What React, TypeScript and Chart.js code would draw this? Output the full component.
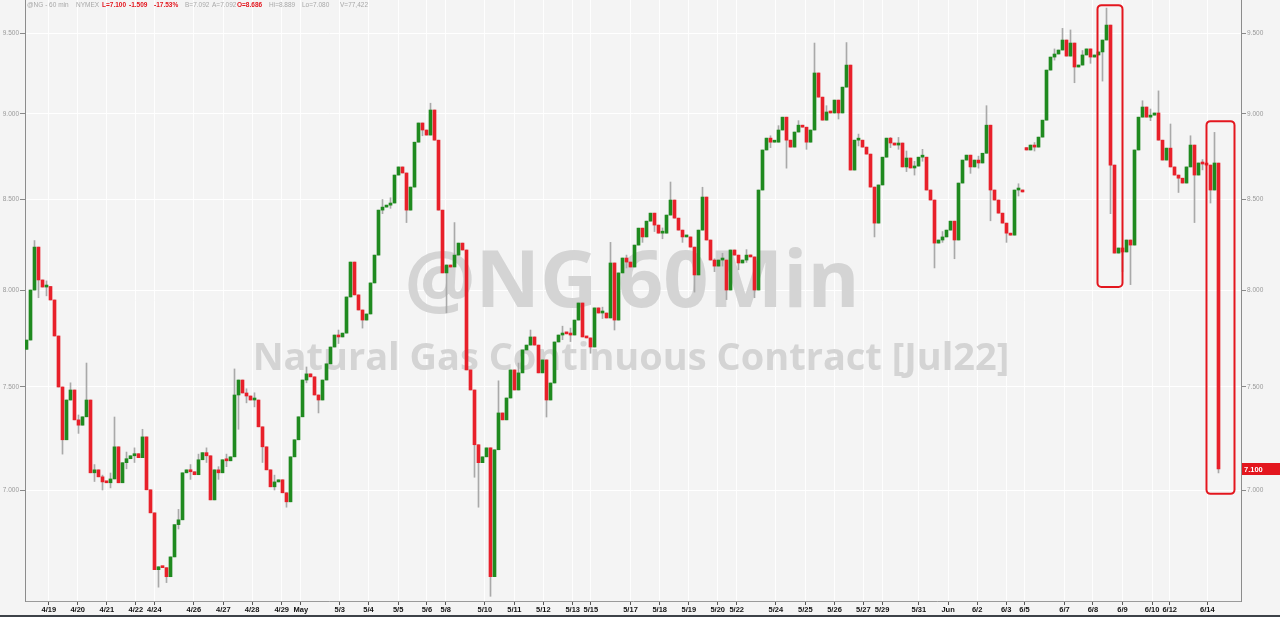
import React, { useEffect, useRef } from "react";
import { Chart, registerables } from "chart.js";

Chart.register(...registerables);

// ---- data (hourly-ish candles) ----
const closes: number[] = [
  7.738, 8.001, 8.234, 8.055, 8.017, 8.020, 7.948, 7.759, 7.499, 7.239,
  7.434, 7.484, 7.336, 7.310, 7.351, 7.434, 7.081, 7.095, 7.062, 7.038,
  7.034, 7.052, 7.205, 7.034, 7.129, 7.148, 7.162, 7.172, 7.153, 7.253,
  7.001, 6.894, 6.637, 6.650, 6.646, 6.606, 6.694, 6.840, 6.862, 7.081,
  7.095, 7.086, 7.072, 7.143, 7.177, 7.162, 6.954, 7.095, 7.081, 7.143,
  7.138, 7.157, 7.459, 7.534, 7.469, 7.454, 7.434, 7.434, 7.302, 7.205,
  7.095, 7.015, 7.038, 7.048, 6.987, 6.945, 7.157, 7.239, 7.351, 7.534,
  7.565, 7.550, 7.459, 7.434, 7.534, 7.616, 7.702, 7.764, 7.754, 7.774,
  7.964, 8.152, 7.975, 7.895, 7.842, 7.874, 8.039, 8.190, 8.440, 8.457,
  8.468, 8.480, 8.640, 8.687, 8.652, 8.440, 8.571, 8.832, 8.946, 8.904,
  8.874, 9.024, 8.844, 8.440, 8.093, 8.136, 8.125, 8.190, 8.256, 8.218,
  7.585, 7.484, 7.215, 7.129, 7.157, 7.200, 6.606, 7.191, 7.370, 7.336,
  7.444, 7.585, 7.484, 7.570, 7.687, 7.712, 7.754, 7.712, 7.570, 7.636,
  7.434, 7.519, 7.728, 7.764, 7.774, 7.770, 7.764, 7.842, 7.932, 7.754,
  7.749, 7.702, 7.906, 7.879, 7.879, 7.853, 8.147, 7.842, 8.093, 8.174,
  8.152, 8.125, 8.245, 8.339, 8.290, 8.378, 8.423, 8.356, 8.311, 8.311,
  8.412, 8.497, 8.395, 8.328, 8.290, 8.290, 8.234, 8.082, 8.328, 8.514,
  8.273, 8.163, 8.130, 8.163, 8.163, 8.001, 8.218, 8.190, 8.147, 8.163,
  8.190, 8.180, 8.001, 8.554, 8.786, 8.856, 8.832, 8.832, 8.904, 8.981,
  8.844, 8.803, 8.892, 8.933, 8.921, 8.832, 8.904, 9.250, 9.102, 8.963,
  9.012, 9.006, 9.084, 9.006, 9.163, 9.299, 8.669, 8.844, 8.844, 8.803,
  8.762, 8.571, 8.367, 8.583, 8.744, 8.856, 8.827, 8.815, 8.827, 8.687,
  8.739, 8.681, 8.692, 8.744, 8.744, 8.554, 8.497, 8.256, 8.273, 8.290,
  8.328, 8.378, 8.273, 8.594, 8.727, 8.756, 8.687, 8.727, 8.710, 8.767,
  8.933, 8.554, 8.497, 8.423, 8.367, 8.311, 8.300, 8.554, 8.554, 8.543,
  8.786, 8.815, 8.803, 8.862, 8.963, 9.268, 9.349, 9.368, 9.393, 9.456,
  9.355, 9.437, 9.287, 9.299, 9.362, 9.400, 9.349, 9.362, 9.381, 9.456,
  9.551, 8.698, 8.201, 8.229, 8.207, 8.273, 8.245, 8.786, 8.981, 9.042,
  8.981, 8.993, 9.006, 8.844, 8.727, 8.797, 8.687, 8.640, 8.622, 8.594,
  8.687, 8.815, 8.640, 8.710, 8.704, 8.698, 8.554, 8.710, 7.100,
];

const firstOpen = 7.69;
// [candle index, open] where a session opens away from the previous close
const gapOpens: [number, number][] = [[250, 8.8]];
// [candle index, high, low] for visible wicks
const wicks: [number, number | null, number | null][] = [
  [2, 8.27, null], [3, null, 7.96], [5, 8.05, 7.97], [9, null, 7.17], [11, 7.52, 7.44],
  [13, 7.36, 7.27], [15, 7.62, null], [17, 7.12, 7.04], [19, 7.07, 7.0], [21, 7.08, 7.01],
  [22, 7.35, null], [25, 7.18, 7.1], [27, 7.2, 7.13], [29, 7.29, null], [33, null, 6.56],
  [35, null, 6.58], [38, 6.91, 6.82], [41, 7.12, 7.05], [43, 7.17, 7.1], [45, 7.2, 7.13],
  [48, 7.11, 7.05], [50, 7.17, 7.11], [52, 7.59, null], [53, null, 7.29], [55, 7.49, 7.42],
  [57, 7.47, 7.4], [59, null, 7.13], [62, 7.07, 7.0], [65, null, 6.92], [70, 7.6, 7.52],
  [73, null, 7.37], [78, 7.79, 7.72], [84, 7.87, 7.8], [89, 8.5, 8.42], [91, 8.51, 8.45],
  [95, null, 8.37], [99, 8.94, 8.87], [101, 9.065, null], [105, null, 7.88], [107, 8.37, null],
  [112, null, 7.06], [113, null, 6.92], [116, null, 6.52], [118, 7.53, null], [123, 7.62, 7.53],
  [126, 7.79, 7.72], [130, null, 7.35], [134, 7.81, 7.74], [136, 7.8, 7.73], [141, 7.74, 7.67],
  [144, 7.91, 7.85], [146, 8.26, null], [147, null, 7.79], [150, 8.19, 8.12], [154, 8.33, 8.26],
  [157, 8.39, 8.32], [159, 8.34, 8.28], [161, 8.6, null], [164, 8.32, 8.26], [167, null, 7.99],
  [169, 8.57, null], [172, 8.17, 8.1], [174, 8.2, 8.13], [175, null, 7.95], [178, 8.18, 8.11],
  [180, 8.22, 8.15], [182, null, 7.96], [186, 8.87, 8.8], [188, 8.93, 8.87], [190, null, 8.68],
  [193, 8.96, 8.9], [195, 8.87, 8.79], [197, 9.437, null], [200, 9.05, 8.98], [203, 9.04, 8.97],
  [205, 9.44, null], [208, 8.88, 8.81], [212, null, 8.29], [216, 8.86, 8.8], [218, 8.86, 8.79],
  [220, 8.78, 8.66], [222, 8.72, 8.64], [224, 8.79, 8.72], [227, null, 8.12], [229, 8.32, 8.26],
  [232, null, 8.17], [236, 8.72, 8.65], [238, 8.75, 8.68], [240, 9.05, null], [241, null, 8.38],
  [245, null, 8.26], [248, 8.59, 8.52], [252, 8.83, 8.78], [257, 9.4, 9.33], [259, 9.53, null],
  [261, 9.52, null], [262, null, 9.19], [264, 9.39, 9.33], [266, 9.38, 9.31], [269, null, 9.2],
  [270, 9.66, null], [271, null, 8.42], [274, null, 8.1], [276, null, 8.03], [279, 9.08, 9.0],
  [281, 9.03, 8.96], [283, 9.14, null], [286, 8.94, null], [288, null, 8.54], [291, 8.87, null],
  [292, null, 8.37], [294, 8.73, 8.67], [296, null, 8.48], [297, 8.89, null], [298, null, 7.08],
];

const yTicks = [7.0, 7.5, 8.0, 8.5, 9.0, 9.5];
const yMin = 6.4996;
const yMax = 9.7124;

const xTickPos = [
  5.6, 12.8, 20.1, 27.35, 31.95, 41.85, 49.2, 56.4, 63.8, 68.6,
  78.3, 85.5, 92.9, 100.1, 104.8, 114.6, 121.95, 129.2, 136.55, 141.1,
  151.0, 158.3, 165.6, 172.8, 177.55, 187.35, 194.7, 202.0, 209.2, 213.9,
  223.1, 230.4, 237.65, 244.9, 249.5, 259.5, 266.6, 274.0, 281.4, 285.8, 295.2,
];
const xTickLabels = [
  "4/19", "4/20", "4/21", "4/22", "4/24", "4/26", "4/27", "4/28", "4/29", "May",
  "5/3", "5/4", "5/5", "5/6", "5/8", "5/10", "5/11", "5/12", "5/13", "5/15",
  "5/17", "5/18", "5/19", "5/20", "5/22", "5/24", "5/25", "5/26", "5/27", "5/29",
  "5/31", "Jun", "6/2", "6/3", "6/5", "6/7", "6/8", "6/9", "6/10", "6/12", "6/14",
];

const lastPrice = 7.1;

const headerTexts = [
  "@NG - 60 min", "NYMEX", "L=7.100", "-1.509", "-17.53%", "B=7.092",
  "A=7.092", "O=8.686", "Hi=8.889", "Lo=7.080", "V=77,422",
];
const headerRed = [false, false, true, true, true, false, false, true, false, false, false];
const headerX = [27, 76, 102, 129, 154, 185, 212, 237, 269, 302, 340];

// highlighted regions: [first index, last index, high price, low price]
const boxes: [number, number, number, number][] = [
  [267.75, 274, 9.679, 8.017],
  [295, 302, 8.957, 6.982],
];

const watermark1 = "@NG 60Min";
const watermark2 = "Natural Gas Continuous Contract [Jul22]";

// ---- chart ----
const GREEN = "#1f8a1f";
const RED = "#e8202a";
const BG = "#f4f4f4";

function buildConfig(): any {
  const opens = closes.map((c, i) => (i === 0 ? firstOpen : closes[i - 1]));
  gapOpens.forEach(([i, o]) => (opens[i] = o));
  const highs = closes.map((c, i) => Math.max(c, opens[i]));
  const lows = closes.map((c, i) => Math.min(c, opens[i]));
  wicks.forEach(([i, h, l]) => {
    if (h !== null) highs[i] = Math.max(highs[i], h);
    if (l !== null) lows[i] = Math.min(lows[i], l);
  });

  const bodies = closes.map((c, i) => ({ x: i, y: [opens[i], c] }));
  const bodyColors = closes.map((c, i) => (c >= opens[i] ? GREEN : RED));
  const wickData = closes.map((c, i) => ({ x: i, y: [lows[i], highs[i]] }));

  const yAxisCommon = (pos: "left" | "right", width: number, onArea: boolean) => ({
    type: "logarithmic",
    position: pos,
    min: yMin,
    max: yMax,
    bounds: "data",
    afterBuildTicks: (s: any) => {
      s.ticks = yTicks.map((v) => ({ value: v }));
    },
    afterFit: (s: any) => {
      s.width = width;
      s.paddingTop = 0;
      s.paddingBottom = 0;
    },
    ticks: {
      callback: (v: any) => Number(v).toFixed(3),
      font: { family: "Liberation Sans, Arial", size: 6.5 },
      color: "#9a9a9a",
      padding: 1,
      autoSkip: false,
    },
    grid: {
      color: "#ffffff",
      lineWidth: 1,
      drawOnChartArea: onArea,
      drawTicks: true,
      tickLength: 5,
      tickColor: "#8a8a8a",
    },
    border: { display: true, color: "#8c8c8c", width: 1 },
  });

  const bgPlugin = {
    id: "bgPlugin",
    beforeDraw(chart: any) {
      const { ctx, width, height } = chart;
      ctx.save();
      ctx.fillStyle = BG;
      ctx.fillRect(0, 0, width, height);
      ctx.fillStyle = "#3d4248";
      ctx.fillRect(0, height - 2, width, 2);
      ctx.restore();
    },
  };

  const watermarkPlugin = {
    id: "watermarkPlugin",
    beforeDatasetsDraw(chart: any) {
      const { ctx } = chart;
      ctx.save();
      ctx.fillStyle = "#d4d4d4";
      ctx.textAlign = "center";
      ctx.textBaseline = "alphabetic";
      const items: [string, number, number, number][] = [
        [watermark1, 632, 307, 455],
        [watermark2, 631, 370, 757],
      ];
      items.forEach(([t, cx, base, w]) => {
        ctx.font = "bold 80px 'Open Sans'";
        const m = ctx.measureText(t).width;
        const size = (80 * w) / m;
        ctx.font = `bold ${size}px 'Open Sans'`;
        ctx.fillText(t, cx, base);
      });
      ctx.restore();
    },
  };

  const overlayPlugin = {
    id: "overlayPlugin",
    afterDatasetsDraw(chart: any) {
      const { ctx } = chart;
      const xs = chart.scales.x;
      const ys = chart.scales.y;
      ctx.save();
      ctx.strokeStyle = "#e3161e";
      ctx.lineWidth = 2;
      boxes.forEach(([i0, i1, hi, lo]) => {
        const x0 = xs.getPixelForValue(i0);
        const x1 = xs.getPixelForValue(i1);
        const y0 = ys.getPixelForValue(hi);
        const y1 = ys.getPixelForValue(lo);
        ctx.beginPath();
        if ((ctx as any).roundRect) (ctx as any).roundRect(x0, y0, x1 - x0, y1 - y0, 4);
        else ctx.rect(x0, y0, x1 - x0, y1 - y0);
        ctx.stroke();
      });
      ctx.restore();
    },
    afterDraw(chart: any) {
      const { ctx, chartArea, width } = chart;
      const ys = chart.scales.y;
      ctx.save();
      // last price tag
      const py = Math.round(ys.getPixelForValue(lastPrice));
      ctx.fillStyle = "#e3161e";
      ctx.fillRect(chartArea.right + 1, py - 6, width - chartArea.right - 1, 12);
      ctx.fillStyle = "#ffffff";
      ctx.font = "bold 7.5px 'Liberation Sans', Arial";
      ctx.textBaseline = "middle";
      ctx.textAlign = "left";
      ctx.fillText(lastPrice.toFixed(3), chartArea.right + 3, py + 0.5);
      // header line
      headerTexts.forEach((t, i) => {
        ctx.font = (headerRed[i] ? "bold " : "") + "6.5px 'Liberation Sans', Arial";
        ctx.fillStyle = headerRed[i] ? "#e3161e" : "#a8a8a8";
        ctx.fillText(t, headerX[i], 5.5);
      });
      ctx.restore();
    },
  };

  return {
    type: "bar",
    data: {
      datasets: [
        {
          label: "body",
          data: bodies,
          backgroundColor: bodyColors,
          borderWidth: 0,
          barThickness: 3,
          minBarLength: 2,
          grouped: false,
          order: 0,
          xAxisID: "x",
          yAxisID: "y",
        },
        {
          label: "wick",
          data: wickData,
          backgroundColor: "#a9a9a9",
          borderWidth: 0,
          barThickness: 1,
          minBarLength: 1,
          grouped: false,
          order: 1,
          xAxisID: "x",
          yAxisID: "y",
        },
      ],
    },
    options: {
      responsive: false,
      animation: false,
      devicePixelRatio: 1,
      events: [],
      layout: { padding: 0 },
      plugins: { legend: { display: false }, tooltip: { enabled: false } },
      scales: {
        x: {
          type: "linear",
          min: -0.375,
          max: 303.625,
          offset: false,
          bounds: "data",
          afterBuildTicks: (s: any) => {
            s.ticks = xTickPos.map((v) => ({ value: v }));
          },
          afterFit: (s: any) => {
            s.height = 16;
            s.paddingLeft = 0;
            s.paddingRight = 0;
          },
          ticks: {
            callback: (_v: any, i: number) => xTickLabels[i],
            autoSkip: false,
            maxRotation: 0,
            minRotation: 0,
            font: { family: "Liberation Sans, Arial", size: 7.5, weight: "bold" },
            color: "#111111",
            padding: 0,
          },
          grid: {
            offset: false,
            color: "rgba(255,255,255,0.85)",
            lineWidth: 1,
            drawTicks: true,
            tickLength: 4,
            tickColor: "#555555",
          },
          border: { display: true, color: "#9a9a9a", width: 1 },
        },
        y: yAxisCommon("left", 25, true),
        y2: yAxisCommon("right", 39, false),
      },
    },
    plugins: [bgPlugin, watermarkPlugin, overlayPlugin],
  };
}

export default function App() {
  const ref = useRef<HTMLCanvasElement | null>(null);
  useEffect(() => {
    if (!ref.current) return;
    const chart = new Chart(ref.current, buildConfig());
    return () => chart.destroy();
  }, []);
  return (
    <div style={{ position: "fixed", left: 0, top: 0, width: 1280, height: 617, background: BG }}>
      <canvas ref={ref} width={1280} height={617} style={{ display: "block", width: 1280, height: 617 }} />
    </div>
  );
}
